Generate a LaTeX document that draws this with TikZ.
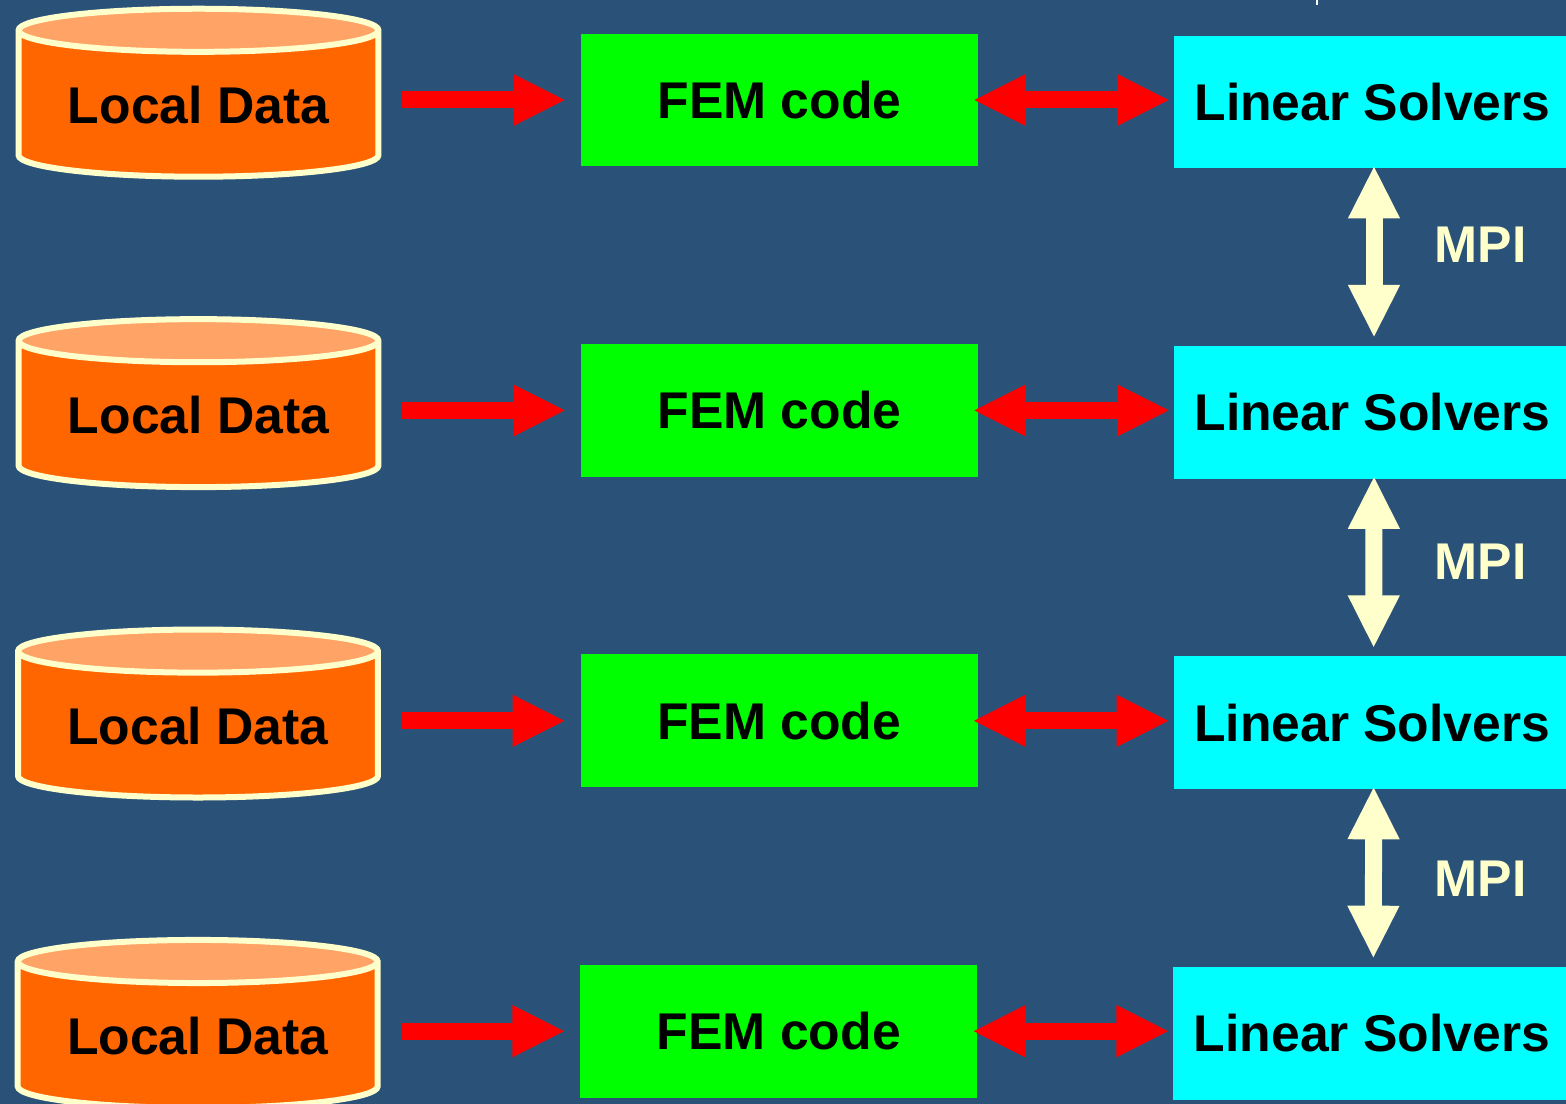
\documentclass[tikz,border=0pt]{standalone}
\usepackage{fontspec}
\setmainfont{Liberation Sans}
\usetikzlibrary{arrows.meta,shapes.geometric}
\definecolor{slidebg}{HTML}{2A5279}
\definecolor{cream}{HTML}{FFFFCC}
\definecolor{barrel}{HTML}{FF6600}
\definecolor{barreltop}{HTML}{FFA366}
\definecolor{femgreen}{HTML}{00FF00}
\definecolor{solcyan}{HTML}{00FFFF}
\definecolor{linkred}{HTML}{FF0000}
\begin{document}
\begin{tikzpicture}[x=0.02cm,y=-0.02cm, font=\fontsize{29.4}{32}\selectfont\bfseries, line join=miter,
    datanode/.style={shape=cylinder, shape border rotate=90, aspect=0.165, cylinder uses custom fill,
        cylinder body fill=barrel, cylinder end fill=barreltop, draw=cream, line width=0.12cm,
        minimum width=7.2cm, minimum height=3.36cm, inner sep=0pt, outer sep=0pt},
    femnode/.style={fill=femgreen, minimum width=7.94cm, minimum height=2.66cm, inner sep=0pt, outer sep=0pt},
    solnode/.style={fill=solcyan, minimum width=7.94cm, minimum height=2.66cm, inner sep=0pt, outer sep=0pt},
    tipa/.tip={Triangle[length=1.06cm,width=0.96cm]},
    redarrow/.style={draw=linkred, line width=0.34cm, -tipa},
    redboth/.style={draw=linkred, line width=0.34cm, tipa-tipa},
    mpiarrow/.style={draw=cream, line width=0.34cm, tipa-tipa}]
    \useasboundingbox (0,0) rectangle (1566,1104);
    \fill[slidebg] (0,0) rectangle (1566,1104);
    \clip (0,0) rectangle (1566,1104);
    \draw[white,line width=0.04cm] (1317,0)--(1317,5);
    % one row per process
    \foreach \i/\yy/\dx in {1/0/0,2/310.4/0,3/620.8/-0.5,4/931.2/-0.8}{
        \node[datanode] (data\i) at (198.5+\dx,105+\yy) {Local Data};
        \node[femnode] (fem\i) at (779.5+\dx*0.8,100+\yy) {FEM code};
        \node[solnode] (sol\i) at (1372.5+\dx*0.8,102+\yy) {Linear Solvers};
        \draw[redarrow,shorten <=0.46cm,shorten >=0.3cm] (data\i.east|-fem\i) -- (fem\i.west);
        \draw[redboth,shorten <=-0.1cm,shorten >=0.08cm] (fem\i.east) -- (sol\i.west|-fem\i);
    }
    \draw[mpiarrow,shorten >=0.16cm,shorten <=-0.06cm] ([xshift=0.03cm]sol1.south) -- ([xshift=0.03cm]sol2.north);
    \draw[mpiarrow,shorten >=0.16cm,shorten <=-0.06cm] ([xshift=0.03cm]sol2.south) -- ([xshift=0.03cm]sol3.north);
    \draw[mpiarrow,shorten >=0.16cm,shorten <=-0.06cm] ([xshift=0.03cm]sol3.south) -- ([xshift=0.03cm]sol4.north);
    \node[text=cream] (mpi1) at (1480.5,245) {MPI};
    \node[text=cream] (mpi2) at (1480.5,562) {MPI};
    \node[text=cream] (mpi3) at (1480.5,879) {MPI};
\end{tikzpicture}
\end{document}
